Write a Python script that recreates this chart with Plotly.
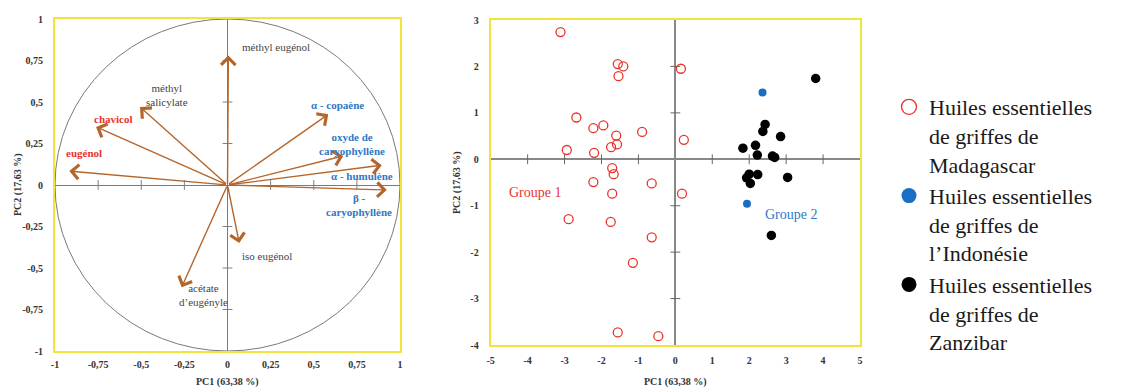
import plotly.graph_objects as go

W, H = 1146, 389

# ---------------- data ----------------
# Correlation circle (loadings)
var_names = ["méthyl eugénol", "méthyl<br>salicylate", "chavicol", "eugénol",
             "α - copaène", "oxyde de<br>caryophyllène", "α - humulène",
             "β -<br>caryophyllène", "iso eugénol", "acétate<br>d’eugényle"]
var_pc1 = [0.005, -0.507, -0.762, -0.917, 0.584, 0.671, 0.894, 0.923, 0.068, -0.266]
var_pc2 = [0.78, 0.47, 0.35, 0.084, 0.426, 0.175, 0.119, -0.03, -0.35, -0.616]
var_group = ["n", "n", "r", "r", "b", "b", "b", "b", "n", "n"]

# Scores
mada_pc1 = [-3.11, -1.56, -1.41, -1.54, 0.15, -2.68, -2.22, -1.95, -1.60, -1.58,
            -1.74, -0.90, 0.23, -2.94, -2.20, -1.71, -1.67, -2.22, -0.64, -1.71,
            0.18, -2.89, -1.75, -0.64, -1.15, -1.56, -0.46]
mada_pc2 = [2.74, 2.05, 2.00, 1.79, 1.95, 0.90, 0.67, 0.73, 0.51, 0.32,
            0.26, 0.59, 0.42, 0.20, 0.14, -0.19, -0.32, -0.49, -0.52, -0.74,
            -0.74, -1.29, -1.35, -1.68, -2.23, -3.73, -3.81]
indo_pc1 = [2.36, 1.94]
indo_pc2 = [1.44, -0.96]
zanz_pc1 = [3.80, 2.43, 2.37, 2.85, 1.83, 2.17, 2.22, 2.63, 2.69, 2.00,
            1.93, 2.23, 2.03, 3.04, 2.60]
zanz_pc2 = [1.74, 0.75, 0.60, 0.49, 0.24, 0.30, 0.09, 0.07, 0.04, -0.32,
            -0.40, -0.33, -0.52, -0.39, -1.64]

legend_names = ["Huiles essentielles<br>de griffes de<br>Madagascar",
                "Huiles essentielles<br>de griffes de<br>l’Indonésie",
                "Huiles essentielles<br>de griffes de<br>Zanzibar"]

# ticks
left_ticks = [-1, -0.75, -0.5, -0.25, 0, 0.25, 0.5, 0.75, 1]
left_ticktext = ["-1", "-0,75", "-0,5", "-0,25", "0", "0,25", "0,5", "0,75", "1"]
right_xticks = [-5, -4, -3, -2, -1, 0, 1, 2, 3, 4, 5]
right_xticktext = ["-5", "-4", "-3", "-2", "-1", "0", "1", "2", "3", "4", "5"]
right_yticks = [-4, -3, -2, -1, 0, 1, 2, 3]
right_yticktext = ["-4", "-3", "-2", "-1", "0", "1", "2", "3"]
axis_title_pc1 = "PC1 (63,38 %)"
axis_title_pc2 = "PC2 (17,63 %)"
group_labels = ["Groupe 1", "Groupe 2"]

# ---------------- style ----------------
SERIF = "Liberation Serif"
RED = "#e8352b"
BLUE = "#2f78c4"
MBLUE = "#1a6fc4"
ARROW = "#b5652a"
YELLOW = "#f3e43c"
AXGRAY = "#808080"
group_color = {"n": "#444444", "r": RED, "b": BLUE}

# label placement for loadings (x, y, xanchor)
label_place = [(0.07, 0.83, "left"), (-0.35, 0.545, "center"), (-0.66, 0.40, "center"),
               (-0.83, 0.19, "center"), (0.64, 0.48, "center"), (0.72, 0.245, "center"),
               (0.78, 0.056, "center"), (0.76, -0.12, "center"), (0.227, -0.43, "center"),
               (-0.14, -0.66, "center")]

fig = go.Figure()

# Unit circle
fig.add_shape(type="circle", xref="x", yref="y", x0=-1, y0=-1, x1=1, y1=1,
              line=dict(color="#7a7a7a", width=1), layer="below")

# Tick marks on central axes (left)
inner_left = [t for t in left_ticks if t not in (-1, 0, 1)]
fig.add_trace(go.Scatter(x=inner_left, y=[0] * len(inner_left), mode="markers",
                         marker=dict(symbol="line-ns", size=7, line=dict(width=1, color=AXGRAY)),
                         xaxis="x", yaxis="y", showlegend=False, hoverinfo="skip"))
fig.add_trace(go.Scatter(x=[0] * len(inner_left), y=inner_left, mode="markers",
                         marker=dict(symbol="line-ew", size=7, line=dict(width=1, color=AXGRAY)),
                         xaxis="x", yaxis="y", showlegend=False, hoverinfo="skip"))
# Tick marks on central axes (right)
inner_rx = [t for t in right_xticks if t not in (-5, 0, 5)]
inner_ry = [t for t in right_yticks if t not in (-4, 0, 3)]
fig.add_trace(go.Scatter(x=inner_rx, y=[0] * len(inner_rx), mode="markers",
                         marker=dict(symbol="line-ns", size=7, line=dict(width=1, color="#666")),
                         xaxis="x2", yaxis="y2", showlegend=False, hoverinfo="skip"))
fig.add_trace(go.Scatter(x=[0] * len(inner_ry), y=inner_ry, mode="markers",
                         marker=dict(symbol="line-ew", size=7, line=dict(width=1, color="#666")),
                         xaxis="x2", yaxis="y2", showlegend=False, hoverinfo="skip"))

# Arrows + labels
for name, px, py, g, (lx, ly, anc) in zip(var_names, var_pc1, var_pc2, var_group, label_place):
    fig.add_annotation(x=px, y=py, ax=0, ay=0, xref="x", yref="y", axref="x", ayref="y",
                       text="", showarrow=True, arrowhead=4, arrowsize=2.0,
                       arrowwidth=1.4, arrowcolor=ARROW, standoff=0)
    bold = g in ("r", "b")
    fig.add_annotation(x=lx, y=ly, xref="x", yref="y", xanchor=anc, yanchor="middle",
                       text=(f"<b>{name}</b>" if bold else name), showarrow=False,
                       font=dict(family=SERIF, size=11, color=group_color[g]))

# Score traces
fig.add_trace(go.Scatter(x=mada_pc1, y=mada_pc2, mode="markers", name=legend_names[0],
                         marker=dict(symbol="circle-open", size=9, color=RED, line=dict(width=1.3)),
                         xaxis="x2", yaxis="y2", showlegend=False))
fig.add_trace(go.Scatter(x=indo_pc1, y=indo_pc2, mode="markers", name=legend_names[1],
                         marker=dict(symbol="circle", size=8, color=MBLUE),
                         xaxis="x2", yaxis="y2", showlegend=False))
fig.add_trace(go.Scatter(x=zanz_pc1, y=zanz_pc2, mode="markers", name=legend_names[2],
                         marker=dict(symbol="circle", size=9.5, color="#000000"),
                         xaxis="x2", yaxis="y2", showlegend=False))

# Legend entries (larger symbols, as in the reference key)
fig.add_trace(go.Scatter(x=[None], y=[None], mode="markers", name=legend_names[0],
                         marker=dict(symbol="circle-open", size=15, color=RED, line=dict(width=1.3)),
                         xaxis="x2", yaxis="y2"))
fig.add_trace(go.Scatter(x=[None], y=[None], mode="markers", name=legend_names[1],
                         marker=dict(symbol="circle", size=15, color=MBLUE),
                         xaxis="x2", yaxis="y2"))
fig.add_trace(go.Scatter(x=[None], y=[None], mode="markers", name=legend_names[2],
                         marker=dict(symbol="circle", size=15, color="#000000"),
                         xaxis="x2", yaxis="y2"))

# Group labels
fig.add_annotation(x=-3.8, y=-0.72, xref="x2", yref="y2", text=group_labels[0], showarrow=False,
                   font=dict(family=SERIF, size=14, color=RED))
fig.add_annotation(x=3.15, y=-1.2, xref="x2", yref="y2", text=group_labels[1], showarrow=False,
                   font=dict(family=SERIF, size=14, color=BLUE))

# Axis titles
tfont = dict(family=SERIF, size=10, color="#333")
def paper(px, py):
    return px / W, 1 - py / H
for (px, py, txt, ang) in [(227, 382, axis_title_pc1, 0), (18, 185, axis_title_pc2, -90),
                           (675, 382, axis_title_pc1, 0), (457, 183, axis_title_pc2, -90)]:
    xx, yy = paper(px, py)
    fig.add_annotation(x=xx, y=yy, xref="paper", yref="paper", text=f"<b>{txt}</b>",
                       showarrow=False, textangle=ang, font=tfont,
                       xanchor="center", yanchor="middle")

tickfont = dict(family=SERIF, size=10, color="#333", weight="bold")
common = dict(showgrid=False, zeroline=True, showline=True, mirror=True,
              linecolor=YELLOW, linewidth=2, ticks="", automargin=False, tickfont=tickfont)

fig.update_layout(
    width=W, height=H, margin=dict(l=0, r=0, t=0, b=0),
    paper_bgcolor="white", plot_bgcolor="white",
    xaxis=dict(domain=[55 / W, 400 / W], range=[-1, 1], tickvals=left_ticks, ticktext=left_ticktext,
               zerolinecolor="#7a7a7a", zerolinewidth=1.2, ticklabelstandoff=3, anchor="y", **common),
    yaxis=dict(domain=[38 / H, 370 / H], range=[-1, 1], tickvals=left_ticks, ticktext=left_ticktext,
               zerolinecolor="#7a7a7a", zerolinewidth=1.2, ticklabelstandoff=8, anchor="x", **common),
    xaxis2=dict(domain=[490.7 / W, 860 / W], range=[-5, 5], tickvals=right_xticks,
                ticktext=right_xticktext,
                zerolinecolor="#888", zerolinewidth=2, ticklabelstandoff=5, anchor="y2", **common),
    yaxis2=dict(domain=[44 / H, 369 / H], range=[-4, 3], tickvals=right_yticks,
                ticktext=right_yticktext,
                zerolinecolor="#888", zerolinewidth=2, ticklabelstandoff=8, anchor="x2", **common),
    showlegend=True,
    legend=dict(x=889 / W, y=1 - 86 / H, xanchor="left", yanchor="top", valign="top",
                font=dict(family=SERIF, size=22, color="#1a1a1a"), bgcolor="rgba(0,0,0,0)",
                itemsizing="trace", tracegroupgap=0),
)

fig.write_html("out.html")
